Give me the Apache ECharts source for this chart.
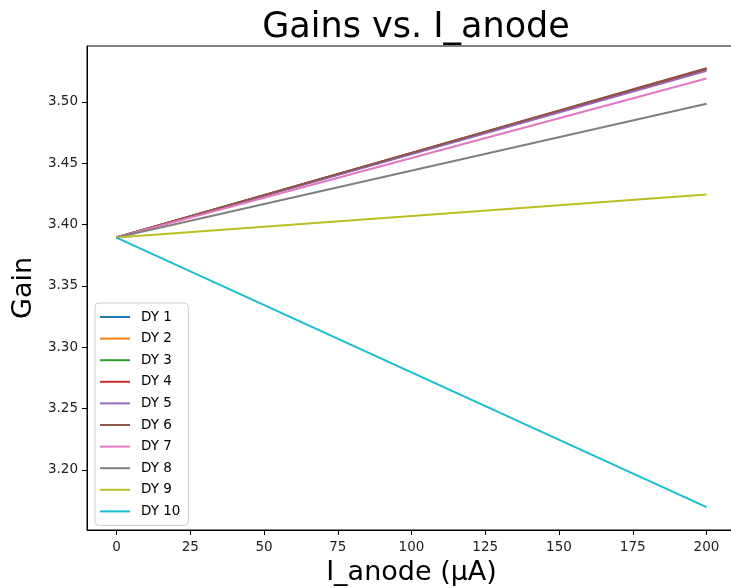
<!DOCTYPE html>
<html>
<head>
<meta charset="utf-8">
<script src="https://cdn.jsdelivr.net/npm/echarts@6/dist/echarts.min.js"></script>
<style>
  html, body { margin: 0; padding: 0; background: #fff; }
  #chart { width: 731px; height: 588px; }
</style>
</head>
<body>
<div id="chart"></div>
<script>
// Anode current sweep endpoints (µA)
const currents = [0, 200];

// Series names and gain at each current
const seriesNames = ['DY 1', 'DY 2', 'DY 3', 'DY 4', 'DY 5', 'DY 6', 'DY 7', 'DY 8', 'DY 9', 'DY 10'];
const gainDY1  = [3.3894, 3.5265];
const gainDY2  = [3.3894, 3.5270];
const gainDY3  = [3.3894, 3.5265];
const gainDY4  = [3.3894, 3.5270];
const gainDY5  = [3.3894, 3.5252];
const gainDY6  = [3.3894, 3.5275];
const gainDY7  = [3.3894, 3.5190];
const gainDY8  = [3.3894, 3.4984];
const gainDY9  = [3.3894, 3.4244];
const gainDY10 = [3.3894, 3.1697];
const gains = [gainDY1, gainDY2, gainDY3, gainDY4, gainDY5, gainDY6, gainDY7, gainDY8, gainDY9, gainDY10];

// Tick labels
const xTicks = [0, 25, 50, 75, 100, 125, 150, 175, 200];
const yTicks = [3.20, 3.25, 3.30, 3.35, 3.40, 3.45, 3.50];

const palette = ['#1f77b4', '#ff7f0e', '#2ca02c', '#d62728', '#9467bd',
                 '#8c564b', '#e377c2', '#7f7f7f', '#bcbd22', '#17becf'];

const font = 'DejaVu Sans';
const chart = echarts.init(document.getElementById('chart'), null, { renderer: 'canvas' });

chart.setOption({
  animation: false,
  color: palette,
  title: {
    text: 'Gains vs. I_anode',
    left: 411, textAlign: 'center', top: 5,
    textStyle: { fontFamily: font, fontSize: 35, fontWeight: 'normal', color: '#000' }
  },
  grid: {
    left: 87, top: 46, width: 649, height: 484,
    outerBoundsMode: 'none', containLabel: false,
    show: true, borderColor: '#000', borderWidth: 1, backgroundColor: 'transparent'
  },
  legend: {
    orient: 'vertical',
    left: 95, top: 303,
    icon: 'rect', itemWidth: 30, itemHeight: 2, itemGap: 7.6,
    padding: [7, 8, 7, 5],
    backgroundColor: 'rgba(255,255,255,0.8)',
    borderColor: '#cccccc', borderWidth: 1, borderRadius: 4,
    textStyle: { fontFamily: font, fontSize: 13.5, color: '#000', lineHeight: 14, padding: [0, 0, 0, 6] },
    data: seriesNames
  },
  xAxis: {
    type: 'value', min: -10, max: 210,
    name: 'I_anode (μA)', nameLocation: 'middle', nameGap: 29,
    nameTextStyle: { fontFamily: font, fontSize: 27, color: '#000' },
    axisLine: { show: true, onZero: false, lineStyle: { color: '#000', width: 1 } },
    axisTick: { show: true, length: 5, customValues: xTicks, lineStyle: { color: '#000' } },
    axisLabel: { customValues: xTicks, margin: 10, fontFamily: font, fontSize: 13.5, color: '#222' },
    splitLine: { show: false }
  },
  yAxis: {
    type: 'value', min: 3.1511, max: 3.5455,
    name: 'Gain', nameLocation: 'middle', nameGap: 50, nameRotate: 90,
    nameTextStyle: { fontFamily: font, fontSize: 27, color: '#000' },
    axisLine: { show: true, onZero: false, lineStyle: { color: '#000', width: 1 } },
    axisTick: { show: true, length: 5, customValues: yTicks, lineStyle: { color: '#000' } },
    axisLabel: {
      customValues: yTicks, margin: 9, fontFamily: font, fontSize: 13.5, color: '#222',
      formatter: v => v.toFixed(2)
    },
    splitLine: { show: false }
  },
  series: seriesNames.map((name, i) => ({
    name: name,
    type: 'line',
    data: currents.map((x, j) => [x, gains[i][j]]),
    showSymbol: false,
    lineStyle: { width: 2 },
    emphasis: { disabled: true }
  }))
});
</script>
</body>
</html>
